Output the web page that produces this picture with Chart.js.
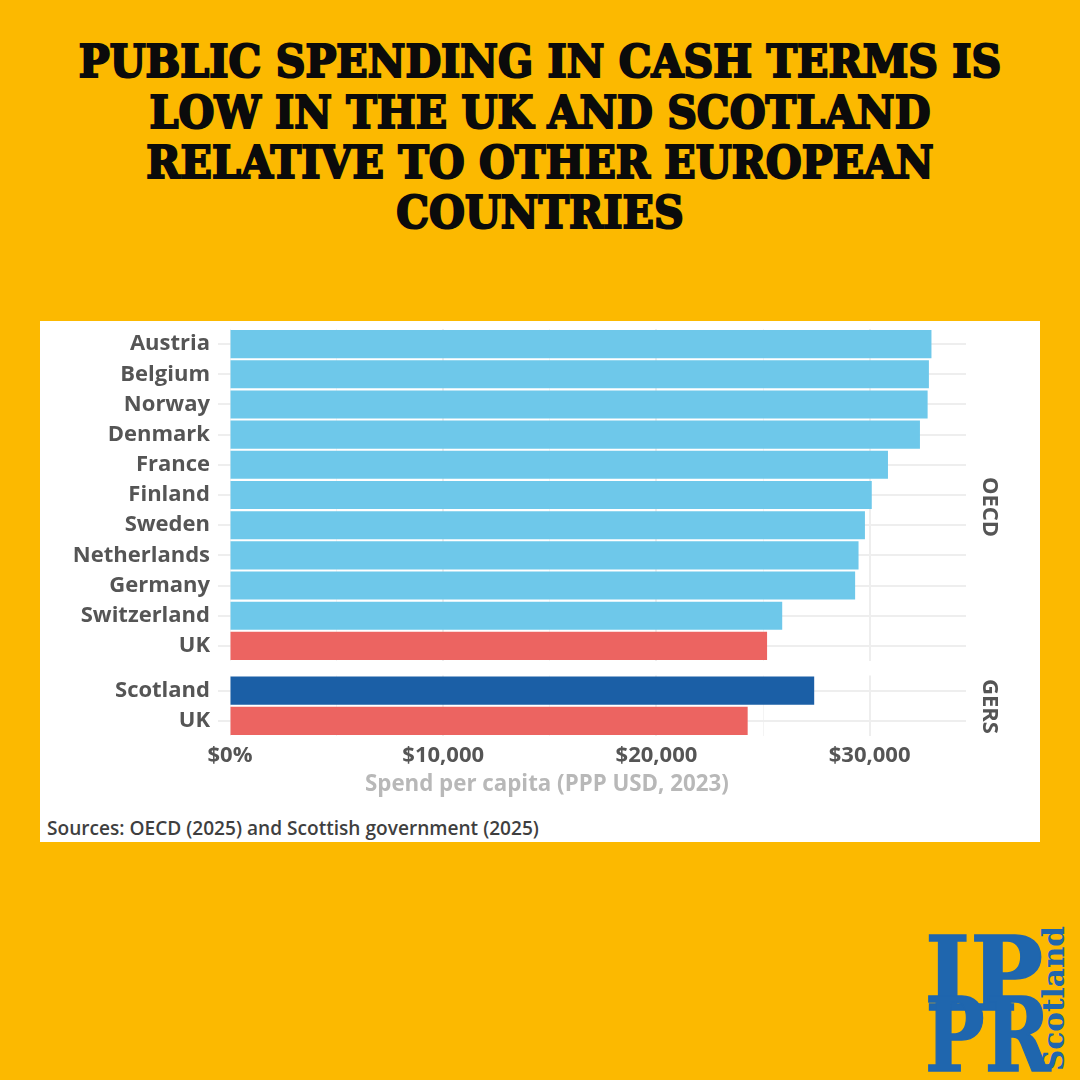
<!DOCTYPE html>
<html><head><meta charset="utf-8">
<script src="https://cdn.jsdelivr.net/npm/chart.js@4"></script>
<style>
html,body{margin:0;padding:0;width:1080px;height:1080px;overflow:hidden;background:#FCB900;}
#stage{position:relative;width:1080px;height:1080px;background:#FCB900;overflow:hidden;}
#panel{position:absolute;left:40px;top:321px;width:1000px;height:521px;background:#fff;}
canvas{position:absolute;left:40px;}
.t{position:absolute;white-space:nowrap;}
.title{left:0;width:1080px;text-align:center;font:bold 45px/50px 'DejaVu Serif',serif;color:#0b0b0b;-webkit-text-stroke:2.2px #0b0b0b;transform:scaleX(.915);transform-origin:540px 0;}
.facet{font:700 22px 'Open Sans',sans-serif;color:#555;writing-mode:vertical-rl;left:977px;}
.axt{left:365px;top:767px;font:700 22.3px 'Open Sans',sans-serif;color:#b8b8b8;}
.src{left:47px;top:815px;font:600 19.1px 'Open Sans',sans-serif;color:#3f3f3f;}
.logo{font:bold 103px/1 'DejaVu Serif',serif;color:#1F66AE;-webkit-text-stroke:1.5px #1F66AE;transform-origin:0 0;}
.logos{font:bold 29.5px/1 'DejaVu Serif',serif;color:#1F66AE;transform:rotate(-90deg);transform-origin:0 0;}
</style></head>
<body><div id="stage">
<div class="t title" style="top:37px">PUBLIC SPENDING IN CASH TERMS IS</div>
<div class="t title" style="top:88px">LOW IN THE UK AND SCOTLAND</div>
<div class="t title" style="top:138px">RELATIVE TO OTHER EUROPEAN</div>
<div class="t title" style="top:188px">COUNTRIES</div>
<div id="panel"></div>
<canvas id="c1" width="1000" height="347" style="top:321px;width:1000px;height:347px"></canvas>
<canvas id="c2" width="1000" height="105" style="top:668px;width:1000px;height:105px"></canvas>
<div class="t facet" style="top:477px">OECD</div>
<div class="t facet" style="top:679px">GERS</div>
<div class="t axt">Spend per capita (PPP USD, 2023)</div>
<div class="t src">Sources: OECD (2025) and Scottish government (2025)</div>
<div class="t logo" style="left:925px;top:922px;transform:scaleX(.94)">IP</div>
<div class="t logo" style="left:925px;top:983px;transform:scaleX(.77)">PR</div>
<div class="t logos" style="left:1039px;top:1071px">Scotland</div>
</div>
<script>
const oecdLabels=['Austria','Belgium','Norway','Denmark','France','Finland','Sweden','Netherlands','Germany','Switzerland','UK'];
const oecdValues=[32900,32780,32720,32360,30860,30100,29780,29480,29320,25900,25190];
const oecdColors=['#6EC8EA','#6EC8EA','#6EC8EA','#6EC8EA','#6EC8EA','#6EC8EA','#6EC8EA','#6EC8EA','#6EC8EA','#6EC8EA','#EC6461'];
const gersLabels=['Scotland','UK'];
const gersValues=[27400,24280];
const gersColors=['#1B5FA6','#EC6461'];
const xTickValues=[0,5000,10000,15000,20000,25000,30000];
const xTickLabels=['$0%','','$10,000','','$20,000','','$30,000'];
const xMin=-563, xMax=34520;

const LABEL_FONT="'Open Sans',sans-serif";
function build(id,labels,values,colors,showTicks,xHeight,padTop,padBottom){
  return new Chart(document.getElementById(id),{
    type:'bar',
    data:{labels:labels,datasets:[{data:values,backgroundColor:colors,barPercentage:.93,categoryPercentage:1,borderWidth:0}]},
    options:{
      indexAxis:'y',responsive:false,animation:false,devicePixelRatio:1,
      layout:{autoPadding:false,padding:{top:padTop,bottom:padBottom,left:0,right:74}},
      plugins:{legend:{display:false},tooltip:{enabled:false}},
      scales:{
        x:{type:'linear',min:xMin,max:xMax,
          afterBuildTicks:s=>{s.ticks=xTickValues.map(v=>({value:v}));},
          afterFit:s=>{s.height=xHeight;s.paddingLeft=0;s.paddingRight=0;},
          border:{display:false},
          grid:{drawTicks:false,color:c=>(c.index%2===0&&c.index>0)?'#eeeeee':'#f4f4f4',lineWidth:c=>(c.index%2===0&&c.index>0)?2:1},
          ticks:{display:showTicks,autoSkip:false,maxRotation:0,padding:7,color:'#555',font:{family:LABEL_FONT,size:22,weight:'700'},
            callback:(v,i)=>xTickLabels[i]}
        },
        y:{type:'category',
          afterFit:s=>{s.width=178;s.paddingTop=0;s.paddingBottom=0;},
          border:{display:false},
          grid:{offset:false,drawTicks:false,color:'#eeeeee',lineWidth:2},
          ticks:{padding:8,color:'#555',autoSkip:false,font:{family:LABEL_FONT,size:22,weight:'700'}}
        }
      }
    }
  });
}
build('c1',oecdLabels,oecdValues,oecdColors,false,0,8,7);
build('c2',gersLabels,gersValues,gersColors,true,37,7.5,0);
</script>
</body></html>
